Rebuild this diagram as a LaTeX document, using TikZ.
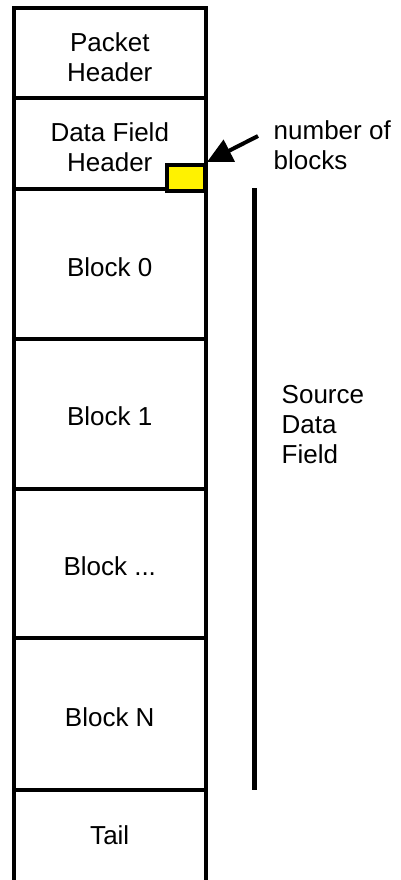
\documentclass[tikz,border=0pt]{standalone}
\usepackage{fontspec}
\setmainfont{Liberation Sans}
\usetikzlibrary{arrows.meta}
\begin{document}
\begin{tikzpicture}[x=1pt,y=-1pt,
  cell/.style={draw=black, line width=4pt, rectangle, minimum width=191.5pt, outer sep=0pt, inner sep=0pt},
  lbl/.style={inner sep=0pt, align=center, font=\fontsize{26}{30}\selectfont},
  side/.style={inner sep=0pt, align=left, anchor=west, font=\fontsize{26}{30}\selectfont}]
\useasboundingbox (0,0) rectangle (400,880);
% boxes
\node[cell, minimum height=90.5pt] (ph) at (109.75,53.25) {};
\node[cell, minimum height=90.5pt] (dfh) at (109.75,143.75) {};
\node[cell, minimum height=150pt] (b0) at (109.75,264) {};
\node[cell, minimum height=149.5pt] (b1) at (109.75,413.75) {};
\node[cell, minimum height=149pt] (bd) at (109.75,563) {};
\node[cell, minimum height=152.5pt] (bn) at (109.75,713.75) {};
\node[cell, minimum height=96pt] (tail) at (109.75,838) {};
% labels
\node[lbl] (phl) at (109.75,57.5) {Packet\\Header};
\node[lbl] (dfhl) at (109.75,147.5) {Data Field\\Header};
\node[lbl] (b0l) at (109.75,267) {Block 0};
\node[lbl] (b1l) at (109.75,416.7) {Block 1};
\node[lbl] (bdl) at (109.75,566) {Block ...};
\node[lbl] (bnl) at (109.75,716.7) {Block N};
\node[lbl] (taill) at (109.75,835) {Tail};
% number of blocks marker
\node[draw=black, line width=4pt, fill=yellow, minimum width=38pt, minimum height=26pt, inner sep=0pt, outer sep=0pt] (ybox) at (186,178) {};
\node[side] (nob) at (273.5,145.5) {number of\\blocks};
\coordinate (arrstart) at (258,136);
\draw[line width=4pt, -{Triangle[length=25pt,width=24pt]}] (arrstart) -- ([xshift=2pt,yshift=3pt]ybox.north east);
% source data field bracket
\coordinate (sdtop) at (254,188);
\coordinate (sdbot) at (254,790);
\draw[line width=5pt] (sdtop) -- (sdbot);
\node[side] (sdf) at (281.5,425) {Source\\Data\\Field};
\end{tikzpicture}
\end{document}
